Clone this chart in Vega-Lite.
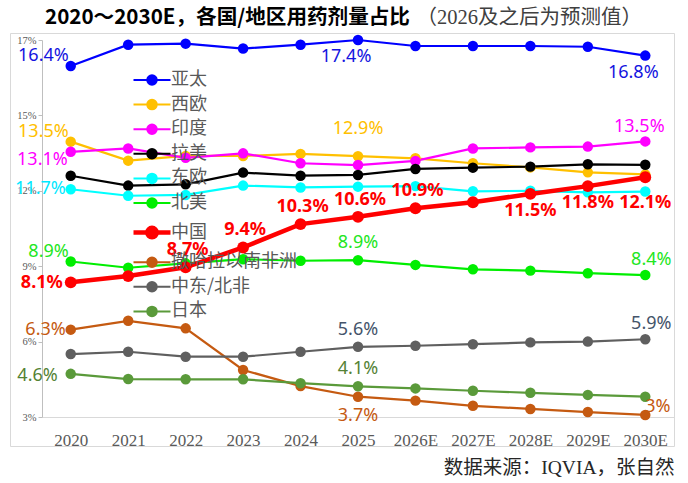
{
  "$schema": "https://vega.github.io/schema/vega-lite/v6.json",
  "autosize": {"type": "none"},
  "padding": {"left": 10, "top": 33, "right": 14, "bottom": 37},
  "width": 664,
  "height": 413,
  "background": "white",
  "config": {
    "view": {"stroke": "#d9d9d9", "strokeWidth": 1},
    "text": {"font": "Noto Sans", "fontSize": 18, "baseline": "middle"}
  },
  "title": {
    "text": "2020～2030E，各国/地区用药剂量占比",
    "anchor": "start",
    "frame": "group",
    "dx": 35,
    "dy": 22,
    "offset": 0,
    "font": "Noto Sans CJK SC",
    "fontSize": 20.6,
    "fontWeight": "bold",
    "color": "#000000"
  },
  "data": {
    "values": [
      {"region": "亚太", "year": "2020", "value": 16.4, "label": "16.4%"},
      {"region": "亚太", "year": "2021", "value": 17.22},
      {"region": "亚太", "year": "2022", "value": 17.26},
      {"region": "亚太", "year": "2023", "value": 17.07},
      {"region": "亚太", "year": "2024", "value": 17.22},
      {"region": "亚太", "year": "2025", "value": 17.4, "label": "17.4%"},
      {"region": "亚太", "year": "2026E", "value": 17.17},
      {"region": "亚太", "year": "2027E", "value": 17.17},
      {"region": "亚太", "year": "2028E", "value": 17.17},
      {"region": "亚太", "year": "2029E", "value": 17.14},
      {"region": "亚太", "year": "2030E", "value": 16.8, "label": "16.8%"},
      {"region": "西欧", "year": "2020", "value": 13.49, "label": "13.5%"},
      {"region": "西欧", "year": "2021", "value": 12.76},
      {"region": "西欧", "year": "2022", "value": 12.94},
      {"region": "西欧", "year": "2023", "value": 12.94},
      {"region": "西欧", "year": "2024", "value": 13.02},
      {"region": "西欧", "year": "2025", "value": 12.93, "label": "12.9%"},
      {"region": "西欧", "year": "2026E", "value": 12.85},
      {"region": "西欧", "year": "2027E", "value": 12.66},
      {"region": "西欧", "year": "2028E", "value": 12.5},
      {"region": "西欧", "year": "2029E", "value": 12.31},
      {"region": "西欧", "year": "2030E", "value": 12.23},
      {"region": "印度", "year": "2020", "value": 13.1, "label": "13.1%"},
      {"region": "印度", "year": "2021", "value": 13.23},
      {"region": "印度", "year": "2022", "value": 12.87},
      {"region": "印度", "year": "2023", "value": 13.04},
      {"region": "印度", "year": "2024", "value": 12.66},
      {"region": "印度", "year": "2025", "value": 12.59},
      {"region": "印度", "year": "2026E", "value": 12.75},
      {"region": "印度", "year": "2027E", "value": 13.23},
      {"region": "印度", "year": "2028E", "value": 13.27},
      {"region": "印度", "year": "2029E", "value": 13.3},
      {"region": "印度", "year": "2030E", "value": 13.5, "label": "13.5%"},
      {"region": "拉美", "year": "2020", "value": 12.18},
      {"region": "拉美", "year": "2021", "value": 11.8},
      {"region": "拉美", "year": "2022", "value": 11.85},
      {"region": "拉美", "year": "2023", "value": 12.3},
      {"region": "拉美", "year": "2024", "value": 12.18},
      {"region": "拉美", "year": "2025", "value": 12.21},
      {"region": "拉美", "year": "2026E", "value": 12.44},
      {"region": "拉美", "year": "2027E", "value": 12.49},
      {"region": "拉美", "year": "2028E", "value": 12.53},
      {"region": "拉美", "year": "2029E", "value": 12.62},
      {"region": "拉美", "year": "2030E", "value": 12.6},
      {"region": "东欧", "year": "2020", "value": 11.66, "label": "11.7%"},
      {"region": "东欧", "year": "2021", "value": 11.41},
      {"region": "东欧", "year": "2022", "value": 11.44},
      {"region": "东欧", "year": "2023", "value": 11.8},
      {"region": "东欧", "year": "2024", "value": 11.73},
      {"region": "东欧", "year": "2025", "value": 11.76},
      {"region": "东欧", "year": "2026E", "value": 11.78},
      {"region": "东欧", "year": "2027E", "value": 11.58},
      {"region": "东欧", "year": "2028E", "value": 11.6},
      {"region": "东欧", "year": "2029E", "value": 11.54},
      {"region": "东欧", "year": "2030E", "value": 11.57},
      {"region": "北美", "year": "2020", "value": 8.88, "label": "8.9%"},
      {"region": "北美", "year": "2021", "value": 8.64},
      {"region": "北美", "year": "2022", "value": 8.81},
      {"region": "北美", "year": "2023", "value": 8.97},
      {"region": "北美", "year": "2024", "value": 8.91},
      {"region": "北美", "year": "2025", "value": 8.93, "label": "8.9%"},
      {"region": "北美", "year": "2026E", "value": 8.75},
      {"region": "北美", "year": "2027E", "value": 8.58},
      {"region": "北美", "year": "2028E", "value": 8.53},
      {"region": "北美", "year": "2029E", "value": 8.43},
      {"region": "北美", "year": "2030E", "value": 8.36, "label": "8.4%"},
      {"region": "中国", "year": "2020", "value": 8.08, "label": "8.1%"},
      {"region": "中国", "year": "2021", "value": 8.32},
      {"region": "中国", "year": "2022", "value": 8.66, "label": "8.7%"},
      {"region": "中国", "year": "2023", "value": 9.42, "label": "9.4%"},
      {"region": "中国", "year": "2024", "value": 10.32, "label": "10.3%"},
      {"region": "中国", "year": "2025", "value": 10.6, "label": "10.6%"},
      {"region": "中国", "year": "2026E", "value": 10.93, "label": "10.9%"},
      {"region": "中国", "year": "2027E", "value": 11.16},
      {"region": "中国", "year": "2028E", "value": 11.48, "label": "11.5%"},
      {"region": "中国", "year": "2029E", "value": 11.78, "label": "11.8%"},
      {"region": "中国", "year": "2030E", "value": 12.12, "label": "12.1%"},
      {"region": "撒哈拉以南非洲", "year": "2020", "value": 6.26, "label": "6.3%"},
      {"region": "撒哈拉以南非洲", "year": "2021", "value": 6.6},
      {"region": "撒哈拉以南非洲", "year": "2022", "value": 6.31},
      {"region": "撒哈拉以南非洲", "year": "2023", "value": 4.71},
      {"region": "撒哈拉以南非洲", "year": "2024", "value": 4.09},
      {"region": "撒哈拉以南非洲", "year": "2025", "value": 3.68, "label": "3.7%"},
      {"region": "撒哈拉以南非洲", "year": "2026E", "value": 3.53},
      {"region": "撒哈拉以南非洲", "year": "2027E", "value": 3.33},
      {"region": "撒哈拉以南非洲", "year": "2028E", "value": 3.21},
      {"region": "撒哈拉以南非洲", "year": "2029E", "value": 3.09},
      {"region": "撒哈拉以南非洲", "year": "2030E", "value": 2.98, "label": "3%"},
      {"region": "中东/北非", "year": "2020", "value": 5.32},
      {"region": "中东/北非", "year": "2021", "value": 5.41},
      {"region": "中东/北非", "year": "2022", "value": 5.22},
      {"region": "中东/北非", "year": "2023", "value": 5.22},
      {"region": "中东/北非", "year": "2024", "value": 5.41},
      {"region": "中东/北非", "year": "2025", "value": 5.6, "label": "5.6%"},
      {"region": "中东/北非", "year": "2026E", "value": 5.64},
      {"region": "中东/北非", "year": "2027E", "value": 5.7},
      {"region": "中东/北非", "year": "2028E", "value": 5.77},
      {"region": "中东/北非", "year": "2029E", "value": 5.8},
      {"region": "中东/北非", "year": "2030E", "value": 5.89, "label": "5.9%"},
      {"region": "日本", "year": "2020", "value": 4.56, "label": "4.6%"},
      {"region": "日本", "year": "2021", "value": 4.36},
      {"region": "日本", "year": "2022", "value": 4.35},
      {"region": "日本", "year": "2023", "value": 4.35},
      {"region": "日本", "year": "2024", "value": 4.2},
      {"region": "日本", "year": "2025", "value": 4.08, "label": "4.1%"},
      {"region": "日本", "year": "2026E", "value": 4.0},
      {"region": "日本", "year": "2027E", "value": 3.91},
      {"region": "日本", "year": "2028E", "value": 3.83},
      {"region": "日本", "year": "2029E", "value": 3.75},
      {"region": "日本", "year": "2030E", "value": 3.68}
    ]
  },
  "encoding": {
    "x": {
      "field": "year",
      "type": "ordinal",
      "sort": null,
      "scale": {"type": "point", "padding": 0.5, "range": [32, 664]},
      "axis": {
        "orient": "bottom",
        "offset": -29,
        "labelAngle": 0,
        "ticks": false,
        "labelFont": "Liberation Serif",
        "labelFontSize": 17,
        "labelColor": "#595959",
        "labelPadding": 15,
        "domainColor": "#d9d9d9",
        "title": "数据来源：IQVIA，张自然",
        "titleX": 664,
        "titleY": 50,
        "titleAlign": "right",
        "titleBaseline": "middle",
        "titleFont": "Liberation Serif, Noto Sans CJK SC",
        "titleFontSize": 19.5,
        "titleFontWeight": "normal",
        "titleColor": "#262626"
      }
    },
    "y": {
      "field": "value",
      "type": "quantitative",
      "scale": {"domain": [2.9, 17.4], "range": [384, 7], "nice": false, "zero": false},
      "axis": {
        "orient": "left",
        "offset": -32,
        "values": [2.9, 5.8, 8.7, 11.6, 14.5, 17.4],
        "labelExpr": "format(datum.value, '.0f') + '%'",
        "labelFont": "Liberation Serif",
        "labelFontSize": 10.5,
        "labelColor": "#595959",
        "labelPadding": 2,
        "tickSize": 4,
        "tickColor": "#bfbfbf",
        "domainColor": "#bfbfbf",
        "grid": false,
        "title": "（2026及之后为预测值）",
        "titleAngle": 0,
        "titleX": 374,
        "titleY": -16,
        "titleAlign": "left",
        "titleBaseline": "middle",
        "titleFont": "Liberation Serif, Noto Sans CJK SC",
        "titleFontSize": 20.5,
        "titleFontWeight": "normal",
        "titleColor": "#404040"
      }
    }
  },
  "layer": [
    {
      "transform": [{"filter": "datum.region != '中国'"}],
      "mark": {"type": "line", "strokeWidth": 2.2},
      "encoding": {
        "color": {
          "field": "region",
          "type": "nominal",
          "scale": {
            "domain": ["亚太", "西欧", "印度", "拉美", "东欧", "北美", "中国", "撒哈拉以南非洲", "中东/北非", "日本"],
            "range": ["#0000ff", "#ffc000", "#ff00ff", "#000000", "#00ffff", "#00ee00", "#ff0000", "#c55a11", "#5f5f5f", "#5a9a3a"]
          },
          "legend": {
            "orient": "none",
            "legendX": 133,
            "legendY": 38,
            "title": null,
            "padding": 0,
            "symbolType": "M-3.7,0H3.7M0.95,0A0.95,0.95,0,1,1,-0.95,0A0.95,0.95,0,1,1,0.95,0Z",
            "symbolSize": 100,
            "symbolOffset": 0,
            "symbolStrokeWidth": 2,
            "rowPadding": 6.6,
            "labelOffset": 10,
            "labelFont": "Noto Sans CJK SC",
            "labelFontSize": 18,
            "labelColor": "#595959",
            "encode": {
              "symbols": {
                "update": {
                  "fill": {"scale": "color", "field": "value"},
                  "stroke": {"scale": "color", "field": "value"},
                  "strokeWidth": {"signal": "datum.value === '中国' ? 4.5 : 2"},
                  "opacity": {"value": 1}
                }
              }
            }
          }
        }
      }
    },
    {
      "transform": [{"filter": "datum.region != '中国'"}],
      "mark": {"type": "point", "filled": true, "size": 110, "opacity": 1},
      "encoding": {"color": {"field": "region", "type": "nominal"}}
    },
    {
      "transform": [{"filter": "datum.region == '中国'"}],
      "mark": {"type": "line", "strokeWidth": 4.5},
      "encoding": {"color": {"field": "region", "type": "nominal"}}
    },
    {
      "transform": [{"filter": "datum.region == '中国'"}],
      "mark": {"type": "point", "filled": true, "size": 140, "opacity": 1},
      "encoding": {"color": {"field": "region", "type": "nominal"}}
    },
    {
      "encoding": {
        "text": {"field": "label"},
        "fill": {
          "field": "region",
          "type": "nominal",
          "scale": {
            "domain": ["亚太", "西欧", "印度", "拉美", "东欧", "北美", "中国", "撒哈拉以南非洲", "中东/北非", "日本"],
            "range": ["#1414e0", "#ffc000", "#ff00ff", "#000000", "#00e8ff", "#22e622", "#ff0000", "#c55a11", "#44546a", "#548235"]
          },
          "legend": null
        }
      },
      "layer": [
        {
          "transform": [{"filter": "datum.year == '2020' && indexof(['亚太', '西欧', '北美'], datum.region) >= 0"}],
          "mark": {"type": "text", "align": "right", "dx": -2, "dy": -10}
        },
        {
          "transform": [{"filter": "datum.year == '2020' && indexof(['东欧', '撒哈拉以南非洲'], datum.region) >= 0"}],
          "mark": {"type": "text", "align": "right", "dx": -5, "dy": 0}
        },
        {
          "transform": [{"filter": "datum.year == '2020' && datum.region == '日本'"}],
          "mark": {"type": "text", "align": "right", "dx": -13, "dy": 2}
        },
        {
          "transform": [{"filter": "datum.year == '2020' && datum.region == '印度'"}],
          "mark": {"type": "text", "align": "right", "dx": -3, "dy": 8}
        },
        {
          "transform": [{"filter": "datum.year == '2025' && indexof(['北美', '中东/北非', '日本'], datum.region) >= 0"}],
          "mark": {"type": "text", "align": "center", "dy": -17}
        },
        {
          "transform": [{"filter": "datum.year == '2025' && datum.region == '西欧'"}],
          "mark": {"type": "text", "align": "center", "dy": -27}
        },
        {
          "transform": [{"filter": "datum.region == '亚太' && datum.year != '2020' && datum.label"}],
          "mark": {"type": "text", "align": "center", "dx": -12, "dy": 17}
        },
        {
          "transform": [{"filter": "datum.year == '2025' && datum.region == '撒哈拉以南非洲'"}],
          "mark": {"type": "text", "align": "center", "dy": 19}
        },
        {
          "transform": [{"filter": "datum.year == '2030E' && indexof(['北美', '中东/北非'], datum.region) >= 0"}],
          "mark": {"type": "text", "align": "center", "dx": 6, "dy": -15}
        },
        {
          "transform": [{"filter": "datum.year == '2030E' && datum.region == '印度'"}],
          "mark": {"type": "text", "align": "center", "dx": -6, "dy": -14}
        },
        {
          "transform": [{"filter": "datum.year == '2030E' && datum.region == '撒哈拉以南非洲'"}],
          "mark": {"type": "text", "align": "left", "dx": 0, "dy": -8}
        },
        {
          "transform": [{"filter": "datum.region == '中国' && datum.year == '2020'"}],
          "mark": {"type": "text", "align": "right", "fontWeight": "bold", "dx": -8, "dy": 1}
        },
        {
          "transform": [{"filter": "datum.region == '中国' && indexof(['2022', '2023', '2024', '2025', '2026E'], datum.year) >= 0"}],
          "mark": {"type": "text", "align": "center", "fontWeight": "bold", "dx": 2, "dy": -17}
        },
        {
          "transform": [{"filter": "datum.region == '中国' && indexof(['2028E', '2029E'], datum.year) >= 0"}],
          "mark": {"type": "text", "align": "center", "fontWeight": "bold", "dy": 17}
        },
        {
          "transform": [{"filter": "datum.region == '中国' && datum.year == '2030E'"}],
          "mark": {"type": "text", "align": "center", "fontWeight": "bold", "dy": 26}
        }
      ]
    }
  ]
}
